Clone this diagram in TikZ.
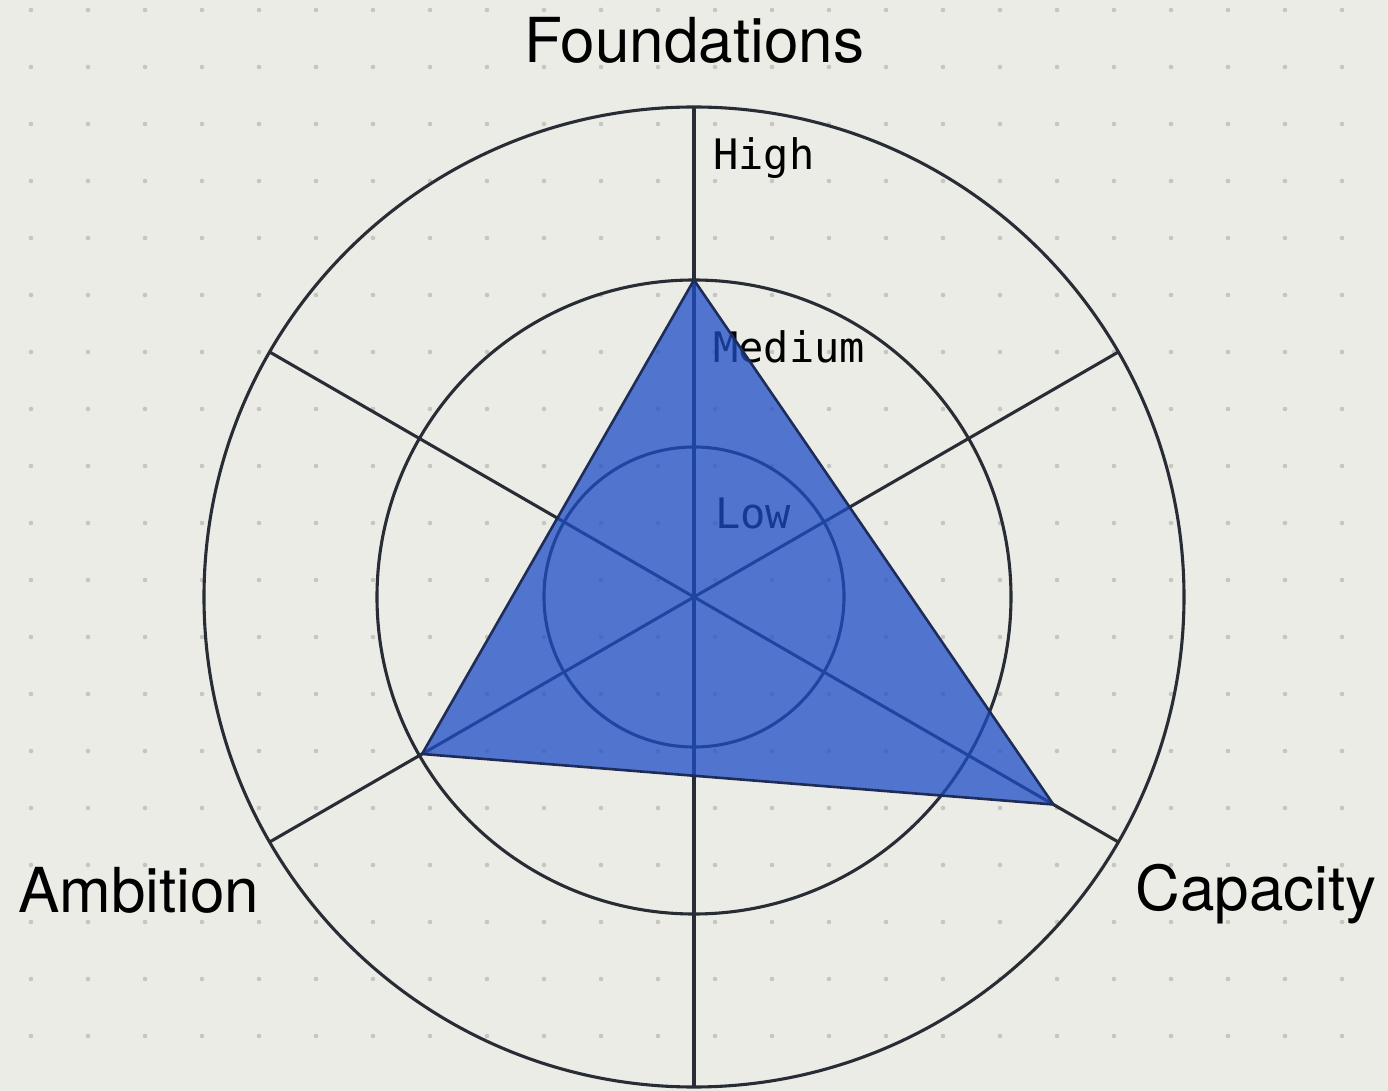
\documentclass[tikz,border=0pt]{standalone}
\usepackage{fontspec}
\setmainfont{TeX Gyre Heros}
\newfontfamily\levelfont{DejaVu Sans Mono}
\definecolor{paper}{RGB}{236,236,230}
\definecolor{ringline}{RGB}{40,44,52}
\definecolor{dotgrey}{RGB}{198,198,192}
\definecolor{areablue}{RGB}{30,78,198}
\definecolor{areaedge}{RGB}{30,44,90}
\tikzset{
  ringstyle/.style={draw=ringline,line width=3.1pt},
  axislabel/.style={font=\fontsize{62}{70}\selectfont,text=black,inner sep=0pt},
  levellabel/.style={font=\levelfont\fontsize{42}{46}\selectfont,text=black,inner sep=0pt,anchor=base west},
}

\begin{document}
\begin{tikzpicture}[x=1pt,y=1pt]
  \fill[paper] (-694,-494) rectangle (694,597);
  \useasboundingbox (-694,-494) rectangle (694,597);
  % dotted paper
  \foreach \i in {0,...,23}
    \foreach \j in {0,...,18}
      \fill[dotgrey] (-663+57*\i,587-57*\j) circle (2.3);

  \coordinate (center) at (0,0);
  \draw[ringstyle] (center) circle (490);
  \draw[ringstyle] (center) circle (317);
  \draw[ringstyle] (center) circle (150);
  \foreach \a in {90,30,-30,-90,210,150}
    \draw[ringstyle] (center) -- (\a:490);

  \node[axislabel,anchor=base] (foundations) at (0,534) {Foundations};
  \node[axislabel,anchor=base west] (ambition) at (-676,-315) {Ambition};
  \node[axislabel,anchor=base east] (capacity) at (683,-313) {Capacity};

  \node[levellabel] (high) at (19,427) {High};
  \node[levellabel] (medium) at (19,234) {Medium};
  \node[levellabel] (low) at (21,68) {Low};

  % scores
  \coordinate (fscore) at (90:317);
  \coordinate (cscore) at (-30:415);
  \coordinate (ascore) at (210:314);
  \filldraw[fill=areablue,fill opacity=0.75,draw=areaedge,line width=2.6pt,line join=round]
    (fscore) -- (cscore) -- (ascore) -- cycle;
\end{tikzpicture}
\end{document}
